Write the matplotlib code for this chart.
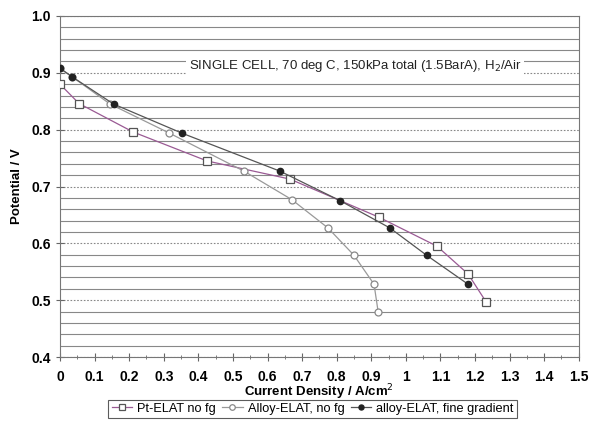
import matplotlib.pyplot as plt
from matplotlib.ticker import MultipleLocator

plt.rcParams['font.family'] = ['Liberation Sans', 'DejaVu Sans']

# Pt-ELAT no fg
pt_x = [0.0, 0.055, 0.211, 0.425, 0.665, 0.922, 1.09, 1.18, 1.232]
pt_y = [0.88, 0.846, 0.796, 0.745, 0.713, 0.646, 0.595, 0.546, 0.497]

# Alloy-ELAT, no fg
al_x = [0.0, 0.035, 0.145, 0.316, 0.532, 0.67, 0.775, 0.85, 0.908, 0.92]
al_y = [0.908, 0.893, 0.845, 0.794, 0.727, 0.677, 0.627, 0.579, 0.528, 0.479]

# alloy-ELAT, fine gradient
fg_x = [0.0, 0.035, 0.155, 0.352, 0.636, 0.81, 0.954, 1.06, 1.18]
fg_y = [0.908, 0.893, 0.845, 0.794, 0.727, 0.675, 0.627, 0.579, 0.528]

fig = plt.figure(figsize=(5.9, 4.21), dpi=100)
ax = fig.add_axes([0.1017, 0.152, 0.8793, 0.81])

ax.plot(pt_x, pt_y, color='#9a5a94', lw=0.9, marker='s', ms=6,
        mfc='white', mec='#555555', mew=0.9, label='Pt-ELAT no fg', zorder=3)
ax.plot(al_x, al_y, color='#999999', lw=0.9, marker='o', ms=5,
        mfc='white', mec='#888888', mew=0.9, label='Alloy-ELAT, no fg', zorder=3)
ax.plot(fg_x, fg_y, color='#555555', lw=0.9, marker='o', ms=4.5,
        mfc='#222222', mec='#222222', label='alloy-ELAT, fine gradient', zorder=4)

ax.set_xlim(0, 1.5)
ax.set_ylim(0.4, 1.0)
ax.xaxis.set_minor_locator(MultipleLocator(0.05))
ax.yaxis.set_major_locator(MultipleLocator(0.1))
ax.yaxis.set_minor_locator(MultipleLocator(0.02))
ax.set_xticks([i / 10 for i in range(16)])
ax.set_xticklabels(['0', '0.1', '0.2', '0.3', '0.4', '0.5', '0.6', '0.7', '0.8',
                    '0.9', '1', '1.1', '1.2', '1.3', '1.4', '1.5'])

ax.grid(True, axis='y', which='minor', color='#888888', lw=0.8, ls='-')
ax.grid(True, axis='y', which='major', color='#888888', lw=0.8, ls=(0, (1.5, 1.5)))
ax.set_axisbelow(True)

ax.tick_params(which='both', direction='inout', color='#666666', labelsize=10)
ax.tick_params(which='major', length=6)
ax.tick_params(which='minor', length=3)
ax.tick_params(axis='x', which='major', pad=6)
ax.tick_params(axis='y', which='minor', length=0)
for lab in ax.get_xticklabels() + ax.get_yticklabels():
    lab.set_fontweight('bold')
for s in ax.spines.values():
    s.set_color('#777777')
    s.set_linewidth(0.8)

ax.set_xlabel('Current Density / A/cm$^2$', fontsize=9.5, fontweight='bold', labelpad=-1)
ax.set_ylabel('Potential / V', fontsize=9.5, fontweight='bold', labelpad=6)

ax.text(0.853, 0.912, 'SINGLE CELL, 70 deg C, 150kPa total (1.5BarA), H$_2$/Air',
        ha='center', va='center', fontsize=9.5, color='#222222',
        bbox=dict(facecolor='white', edgecolor='none', pad=2), zorder=5)

leg = fig.legend(loc='lower center', bbox_to_anchor=(0.53, -0.008), ncol=3,
                 fontsize=9.2, frameon=True, fancybox=False, handlelength=1.6,
                 handletextpad=0.4, columnspacing=0.5, borderpad=0.25,
                 markerscale=0.8)
leg.get_frame().set_edgecolor('#333333')
leg.get_frame().set_linewidth(0.8)

fig.savefig('out.png', dpi=100)
